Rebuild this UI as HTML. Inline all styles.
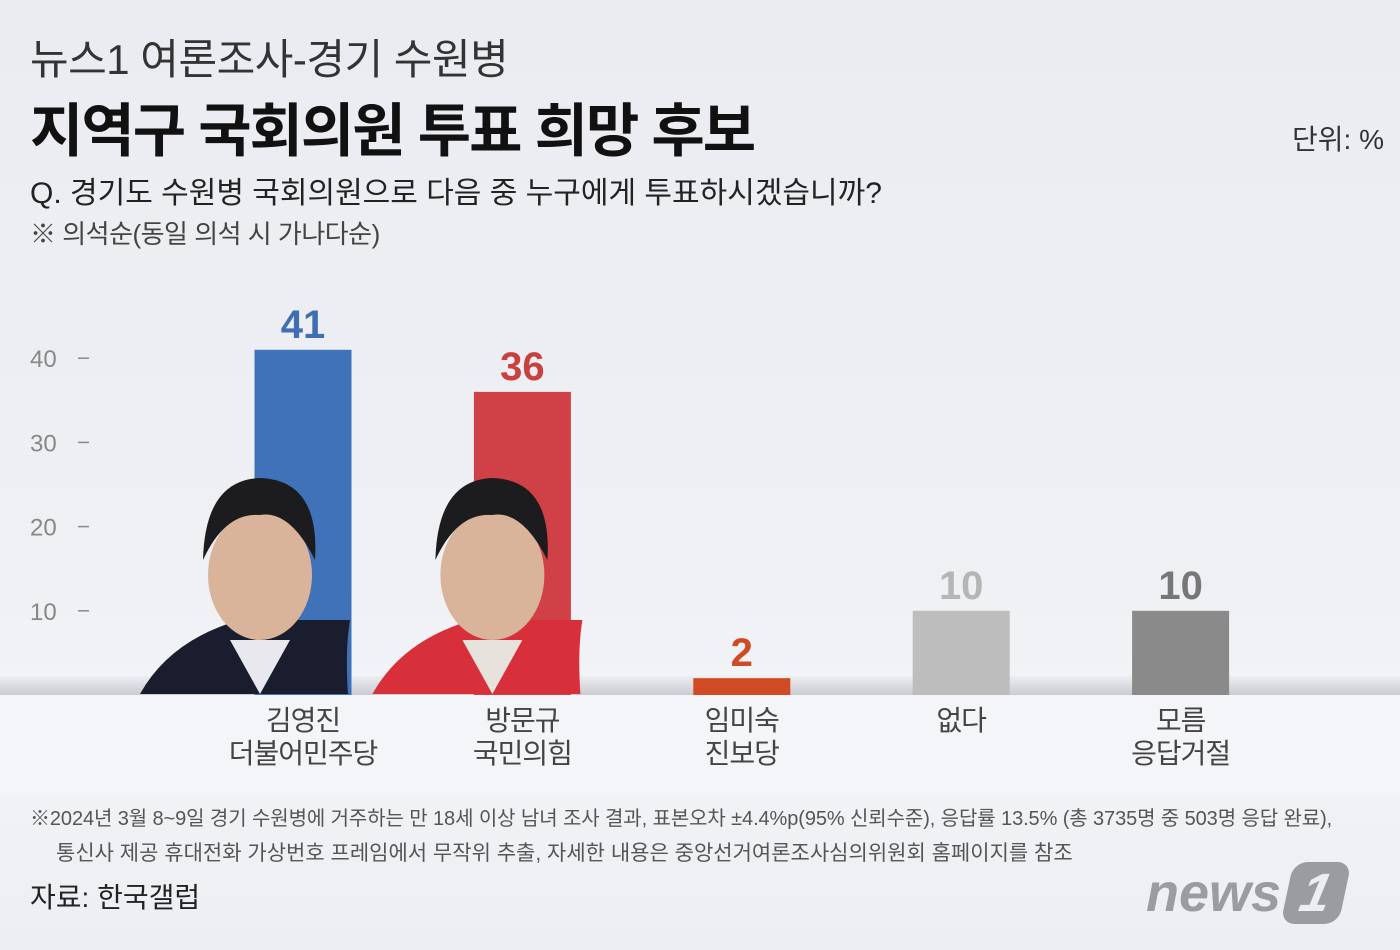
<!DOCTYPE html>
<html><head><meta charset="utf-8">
<style>
body{margin:0;width:1400px;height:950px;overflow:hidden;background:#eceef3;font-family:"Liberation Sans","Noto Sans CJK KR",sans-serif;}
.t{position:absolute;white-space:nowrap;color:#222;}
</style></head>
<body>
<div style="position:absolute;left:0;top:0;width:1400px;height:950px;background:linear-gradient(180deg,#eaecf1 0%,#eef0f4 60%,#f3f4f7 75%,#eceef3 100%);"></div>
<div class="t" style="left:30px;top:26px;font-size:42px;color:#333;letter-spacing:-0.5px;">뉴스1 여론조사-경기 수원병</div>
<div class="t" style="left:30px;top:84px;font-size:58px;font-weight:bold;color:#111;letter-spacing:-2px;">지역구 국회의원 투표 희망 후보</div>
<div class="t" style="left:1292px;top:118px;font-size:28px;color:#333;">단위: %</div>
<div class="t" style="left:30px;top:168px;font-size:30px;color:#222;letter-spacing:0px;">Q. 경기도 수원병 국회의원으로 다음 중 누구에게 투표하시겠습니까?</div>
<div class="t" style="left:30px;top:214px;font-size:26px;color:#444;letter-spacing:-0.5px;">※ 의석순(동일 의석 시 가나다순)</div>
<svg id="chart" width="1400" height="950" style="position:absolute;left:0;top:0">
<defs><linearGradient id="band" x1="0" y1="0" x2="0" y2="1"><stop offset="0" stop-color="#eceef2"/><stop offset="1" stop-color="#c9cbd0"/></linearGradient></defs>
<rect x="0" y="676" width="1400" height="19" fill="url(#band)"/>
<rect x="0" y="695" width="1400" height="100" fill="#f4f5f8"/>
<g id="g"></g>
</svg>
<div class="t" style="left:30px;top:802px;font-size:20px;color:#555;letter-spacing:-0.1px;">※2024년 3월 8~9일 경기 수원병에 거주하는 만 18세 이상 남녀 조사 결과, 표본오차 ±4.4%p(95% 신뢰수준), 응답률 13.5% (총 3735명 중 503명 응답 완료),</div>
<div class="t" style="left:56px;top:837px;font-size:21px;color:#555;letter-spacing:0px;">통신사 제공 휴대전화 가상번호 프레임에서 무작위 추출, 자세한 내용은 중앙선거여론조사심의위원회 홈페이지를 참조</div>
<div class="t" style="left:30px;top:876px;font-size:28px;color:#222;">자료: 한국갤럽</div>
<div class="t" style="left:1146px;top:862px;font-size:54px;font-weight:bold;font-style:italic;color:#9a9ca0;">news<span style="display:inline-block;background:#9a9ca0;color:#eceef3;border-radius:14px;padding:0 14px;margin-left:6px;transform:skewX(-12deg);">1</span></div>
<script>
const categories=["김영진\n더불어민주당","방문규\n국민의힘","임미숙\n진보당","없다","모름\n응답거절"];
const values=[41,36,2,10,10];
const barColors=["#3f72b8","#cf4146","#d04a23","#bdbdbd","#8a8a8a"];
const labelColors=["#3f6fb0","#c8413f","#d04a23","#b5b5b5","#777"];
const ticks=[10,20,30,40];
const y0=695, unit=8.42;
const y=v=>y0-v*unit;
const x=i=>303+i*219.4;
const g=document.getElementById('g');
const ns="http://www.w3.org/2000/svg";
function mk(t,a){const e=document.createElementNS(ns,t);for(const k in a)e.setAttribute(k,a[k]);g.appendChild(e);return e;}
ticks.forEach(t=>{
 const tx=mk('text',{x:30,y:y(t)+9,'font-size':24,fill:'#888','font-family':'Liberation Sans, sans-serif'});tx.textContent=t;
 
 
 const l=mk('line',{x1:78,x2:89,y1:y(t),y2:y(t),stroke:'#888','stroke-width':1.5});
 
 
});
values.forEach((v,i)=>{
 const r=mk('rect',{x:x(i)-48.5,y:y(v),width:97,height:v*unit,fill:barColors[i]});
 
 
 const t=mk('text',{x:x(i),y:y(v)-12,'text-anchor':'middle','font-size':40,'font-weight':'bold',fill:labelColors[i],'font-family':'Liberation Sans, sans-serif'});t.textContent=v;
 
 
 categories[i].split("\n").forEach((s,j)=>{
  const c=mk('text',{x:x(i),y:730+j*33,'text-anchor':'middle','font-size':28,fill:'#444','font-family':'Liberation Sans, Noto Sans CJK KR, sans-serif','letter-spacing':'-1'});c.textContent=s;
  
  
 });
});
function photo(cx,suit,accent){
 const p=mk('path',{d:`M${cx-160} 694 Q${cx-130} 640 ${cx-60} 620 L${cx+50} 620 Q${cx+45} 650 ${cx+48} 694 Z`,fill:accent});
 
 
 const f=mk('ellipse',{cx:cx-40,cy:575,rx:52,ry:65,fill:'#d9b49a'});
 
 
 const h=mk('path',{d:`M${cx-97} 560 Q${cx-95} 480 ${cx-40} 478 Q${cx+20} 480 ${cx+15} 560 Q${cx-10} 510 ${cx-40} 515 Q${cx-75} 512 ${cx-97} 560 Z`,fill:'#1c1c1e'});
 
 
 const s=mk('path',{d:`M${cx-70} 640 L${cx-40} 694 L${cx-10} 640 Z`,fill:suit});
 
 
}
photo(x(0)-3,'#e8e8ee','#1a1d2e');
photo(x(1)+10,'#e8e2dc','#d8303a');
</script>
</body></html>
